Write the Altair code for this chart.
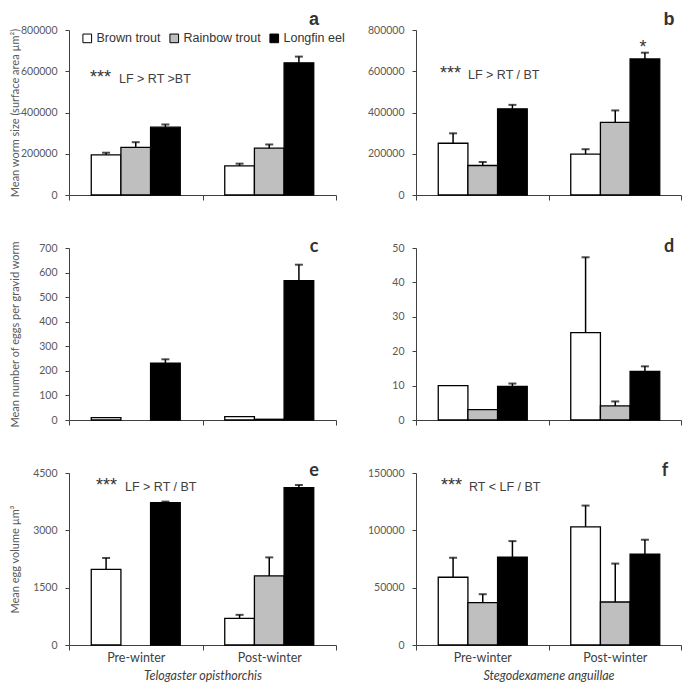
import altair as alt
import pandas as pd

groups = ["Pre-winter", "Post-winter"]
hosts = ["Brown trout", "Rainbow trout", "Longfin eel"]
host_colors = ["#ffffff", "#bfbfbf", "#000000"]

# order of values: Pre-winter (BT, RT, LF), Post-winter (BT, RT, LF)
a_mean = [195000, 231000, 329000, 141000, 227000, 641000]
a_err = [10000, 25000, 13000, 11000, 18000, 30000]
b_mean = [251000, 143000, 418000, 198000, 352000, 660000]
b_err = [48000, 17000, 19000, 24000, 58000, 30000]
c_mean = [10, None, 231, 14, 3, 567]
c_err = [0, None, 16, 0, 0, 65]
d_mean = [10, 3, 9.8, 25.4, 4.1, 14.1]
d_err = [0, 0, 0.8, 21.9, 1.3, 1.5]
e_mean = [1980, None, 3727, 696, 1808, 4118]
e_err = [297, None, 25, 93, 484, 68]
f_mean = [59100, 36900, 76700, 103100, 37500, 79300]
f_err = [17000, 7400, 13900, 18500, 33500, 12500]

y_titles = ["Mean worm size (surface area µm²)",
            "Mean number of eggs per gravid worm",
            "Mean egg volume µm³"]
species = ["Telogaster opisthorchis", "Stegodexamene anguillae"]

AX = "#404040"
LAB = "#595959"


def make_df(means, errs):
    rows = []
    i = 0
    for g in groups:
        for h in hosts:
            m, e = means[i], errs[i]
            i += 1
            if m is None:
                continue
            e = e or 0
            rows.append({"group": g, "host": h, "mean": m, "hi": m + e, "err": e})
    return pd.DataFrame(rows)


def text_layer(txt, x, y, size, font, color, weight="normal", align="left"):
    return alt.Chart(pd.DataFrame({"k": [0]})).mark_text(
        text=txt, fontSize=size, font=font, color=color, fontWeight=weight,
        align=align, baseline="alphabetic"
    ).encode(x=alt.value(x), y=alt.value(y))


def panel(means, errs, ymax, step, width, height, ytitle, xtitle, show_xlabels,
          letter, letter_pos, letter_font, notes, legend=False):
    df = make_df(means, errs)
    dfe = df[df["err"] > 0]

    xkw = dict(labels=show_xlabels, labelAngle=0, tickBand="extent", tickSize=5,
               tickColor=AX, domainColor=AX, labelFont="Lato", labelFontSize=12.5,
               labelColor=AX, labelPadding=1, titleFont="Lato", titleFontSize=12.5,
               titleFontStyle="italic", titleFontWeight="normal", titleColor=AX,
               titlePadding=6, title=xtitle)
    x_axis = alt.Axis(**xkw)
    ykw = dict(values=list(range(0, ymax + 1, step)), format="d", grid=False,
               tickSize=4, tickColor=AX, domainColor=AX, labelFont="Lato",
               labelFontSize=10.5, labelColor=LAB, labelPadding=8, title=ytitle)
    if ytitle is not None:
        ykw.update(titleX=-49, titleFont="Lato", titleFontSize=11,
                   titleFontWeight="normal", titleColor=LAB)
    y_axis = alt.Axis(**ykw)

    xenc = alt.X("group:N", sort=groups, axis=x_axis,
                 scale=alt.Scale(paddingInner=0, paddingOuter=0))
    xoff = alt.XOffset("host:N", sort=hosts,
                       scale=alt.Scale(domain=hosts, paddingInner=0, paddingOuter=0.75))
    yscale = alt.Scale(domain=[0, ymax], nice=False)

    if legend:
        leg = alt.Legend(orient="none", legendX=12, legendY=2, direction="horizontal",
                         title=None, symbolType="square", symbolSize=75,
                         symbolStrokeColor="black", symbolStrokeWidth=1,
                         labelFont="Liberation Sans", labelFontSize=12.5,
                         labelColor="#333333", columnPadding=6, labelOffset=3)
    else:
        leg = None

    bars = alt.Chart(df).mark_bar(stroke="black", strokeWidth=1.3).encode(
        x=xenc, xOffset=xoff,
        y=alt.Y("mean:Q", scale=yscale, axis=y_axis),
        color=alt.Color("host:N", sort=hosts,
                        scale=alt.Scale(domain=hosts, range=host_colors), legend=leg),
    )
    rule = alt.Chart(dfe).mark_rule(color="black", strokeWidth=1.5).encode(
        x=xenc, xOffset=xoff,
        y=alt.Y("mean:Q", scale=yscale, axis=y_axis), y2="hi:Q")
    cap = alt.Chart(dfe).mark_tick(color="black", thickness=2, size=8).encode(
        x=xenc, xOffset=xoff, y=alt.Y("hi:Q", scale=yscale, axis=y_axis))

    layers = [bars, rule, cap]
    layers.append(text_layer(letter, letter_pos[0], letter_pos[1], 18, letter_font,
                             "#333333", weight="bold", align="center"))
    for n in notes:
        layers.append(text_layer(*n))
    return alt.layer(*layers).properties(width=width, height=height)


WL, WR = 267, 265
H1, H2, H3 = 165, 172, 172
ARI = "Liberation Sans"

pa = panel(a_mean, a_err, 800000, 200000, WL, H1, y_titles[0], None, False,
           "a", (245, -5), ARI,
           [("***", 21, 53, 18, ARI, "#333333"),
            ("LF > RT >BT", 50, 53, 12.5, ARI, AX)], legend=True)
pb = panel(b_mean, b_err, 800000, 200000, WR, H1, None, None, False,
           "b", (253, -5), ARI,
           [("***", 24, 49, 18, ARI, "#333333"),
            ("LF > RT / BT", 52, 49, 12.5, ARI, AX),
            ("*", 227, 23, 18, ARI, "#333333", "normal", "center")])
pc = panel(c_mean, c_err, 700, 100, WL, H2, y_titles[1], None, False,
           "c", (245, 4), "Lato", [])
pd_ = panel(d_mean, d_err, 50, 10, WR, H2, None, None, False,
            "d", (253, 4), "Lato", [])
pe = panel(e_mean, e_err, 4500, 1500, WL, H3, y_titles[2], species[0], True,
           "e", (245, 3), "Lato",
           [("***", 27, 18, 18, ARI, "#333333"),
            ("LF > RT / BT", 56, 18, 12.5, ARI, AX)])
pf = panel(f_mean, f_err, 150000, 50000, WR, H3, None, species[1], True,
           "f", (249, 3), "Lato",
           [("***", 25, 18, 18, ARI, "#333333"),
            ("RT < LF / BT", 53, 18, 12.5, ARI, AX)])

chart = alt.concat(
    pa, pb, pc, pd_, pe, pf, columns=2,
    spacing={"row": 53, "column": 80}, bounds="flush", align="each"
).resolve_scale(color="independent").properties(
    padding={"left": 0, "top": 3, "right": 0, "bottom": 0}
).configure_view(stroke=None)

chart.save("out.html", embed_options={"renderer": "svg", "actions": False})
